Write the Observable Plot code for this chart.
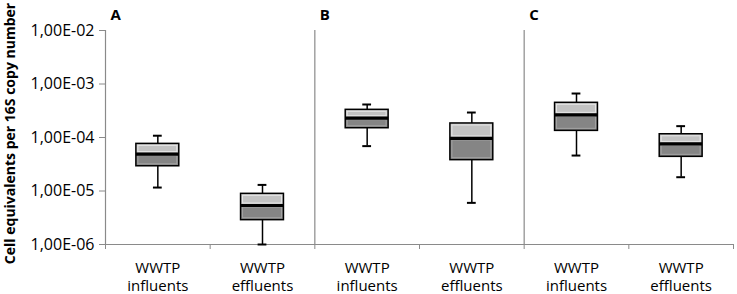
<!DOCTYPE html>
<html>
<head>
<meta charset="utf-8">
<script src="https://cdn.jsdelivr.net/npm/d3@7"></script>
<script src="https://cdn.jsdelivr.net/npm/@observablehq/plot@0.6"></script>
<style>
  html, body { margin: 0; padding: 0; background: #fff; }
</style>
</head>
<body>
<div id="chart"></div>
<script>
// Data
const panels = ["A", "B", "C"];
const panelOf = ["A", "A", "B", "B", "C", "C"];
const categories = ["WWTP\ninfluents", "WWTP\neffluents", "WWTP\ninfluents", "WWTP\neffluents", "WWTP\ninfluents", "WWTP\neffluents"];
const whiskerLow  = [1.16e-5, 1.0e-6,  6.9e-5,  6.0e-6,  4.6e-5,  1.81e-5];
const q1          = [2.9e-5,  2.85e-6, 1.49e-4, 3.77e-5, 1.33e-4, 4.35e-5];
const median      = [4.9e-5,  5.36e-6, 2.30e-4, 9.6e-5,  2.65e-4, 7.6e-5];
const q3          = [7.6e-5,  8.85e-6, 3.29e-4, 1.83e-4, 4.45e-4, 1.15e-4];
const whiskerHigh = [1.08e-4, 1.30e-5, 4.14e-4, 2.93e-4, 6.64e-4, 1.63e-4];
const yTicks = [1e-6, 1e-5, 1e-4, 1e-3, 1e-2];
const yTitle = "Cell equivalents per 16S copy number";

const data = categories.map((c, i) => ({
  i, label: c, panel: panelOf[i],
  min: whiskerLow[i], q1: q1[i], median: median[i], q3: q3[i], max: whiskerHigh[i]
}));

const boxHalf = 0.205;
const capHalf = 0.042;
const center = d => d.i + 0.5;
const bx1 = d => d.i + 0.5 - boxHalf;
const bx2 = d => d.i + 0.5 + boxHalf;

const fmt = d => {
  const e = Math.round(Math.log10(d));
  return "1,00E" + (e < 0 ? "-" : "+") + String(Math.abs(e)).padStart(2, "0");
};

const axisGray = "#8a8a8a";
const font = "'Open Sans', 'Noto Sans', sans-serif";

const chart = Plot.plot({
  width: 737,
  height: 294,
  marginLeft: 105,
  marginRight: 4,
  marginTop: 30,
  marginBottom: 50,
  style: { fontFamily: font, fontSize: "15px", color: "#000", background: "#fff" },
  x: { type: "linear", domain: [0, categories.length], axis: null },
  y: { type: "log", domain: [1e-6, 1e-2], axis: null },
  marks: [
    // y axis ticks and labels
    Plot.axisY({ ticks: yTicks, tickFormat: fmt, tickSize: 6, tickPadding: 5, stroke: axisGray, label: null, color: "#000" }),
    // x axis boundary ticks
    Plot.axisX({ ticks: d3.range(categories.length + 1), tickFormat: () => "", tickSize: 5, stroke: axisGray, label: null }),
    // x axis category labels
    Plot.axisX({ ticks: data.map(center), tickFormat: x => categories[Math.floor(x)], tickSize: 0, tickPadding: 15, lineHeight: 1.22, label: null }),
    // axis lines and panel separators
    Plot.ruleX([0], { stroke: axisGray, strokeWidth: 1.2 }),
    Plot.ruleX([2, 4], { stroke: axisGray, strokeWidth: 1.2 }),
    Plot.ruleY([1e-6], { stroke: axisGray, strokeWidth: 1.2 }),
    // whiskers
    Plot.ruleX(data, { x: center, y1: "q3", y2: "max", stroke: "#000", strokeWidth: 1.5 }),
    Plot.ruleX(data, { x: center, y1: "min", y2: "q1", stroke: "#000", strokeWidth: 1.5 }),
    Plot.ruleY(data, { y: "max", x1: d => center(d) - capHalf, x2: d => center(d) + capHalf, stroke: "#000", strokeWidth: 2 }),
    Plot.ruleY(data, { y: "min", x1: d => center(d) - capHalf, x2: d => center(d) + capHalf, stroke: "#000", strokeWidth: 2 }),
    // box halves
    Plot.rect(data, { x1: bx1, x2: bx2, y1: "q1", y2: "median", fill: "#858585" }),
    Plot.rect(data, { x1: bx1, x2: bx2, y1: "median", y2: "q3", fill: "#c3c3c3" }),
    Plot.rect(data, { x1: bx1, x2: bx2, y1: "q1", y2: "median", fill: "none", stroke: "#a3a3a3", strokeWidth: 1, inset: 2 }),
    Plot.rect(data, { x1: bx1, x2: bx2, y1: "median", y2: "q3", fill: "none", stroke: "#e6e6e6", strokeWidth: 1, inset: 2 }),
    Plot.rect(data, { x1: bx1, x2: bx2, y1: "q1", y2: "q3", fill: "none", stroke: "#000", strokeWidth: 1.5 }),
    Plot.ruleY(data, { y: "median", x1: bx1, x2: bx2, stroke: "#000", strokeWidth: 3.2 }),
    // panel letters
    Plot.text(panels, { x: (d, i) => i * 2, frameAnchor: "top", dy: -21, dx: 5, textAnchor: "start", text: d => d, fontWeight: "bold", fontSize: 15, fill: "#000" }),
    // y title
    Plot.text([yTitle], { frameAnchor: "left", rotate: -90, dx: -95, dy: -4, textAnchor: "middle", text: d => d, fontWeight: "bold", fontSize: 14, fill: "#000" })
  ]
});

// enforce axis label sizes with inline styles
d3.select(chart).selectAll('g[aria-label="y-axis tick label"], g[aria-label="y-axis tick label"] text')
  .style("font-size", "16px");
d3.select(chart).selectAll('g[aria-label="x-axis tick label"], g[aria-label="x-axis tick label"] text')
  .style("font-size", "15px");

document.getElementById("chart").appendChild(chart);
</script>
</body>
</html>
